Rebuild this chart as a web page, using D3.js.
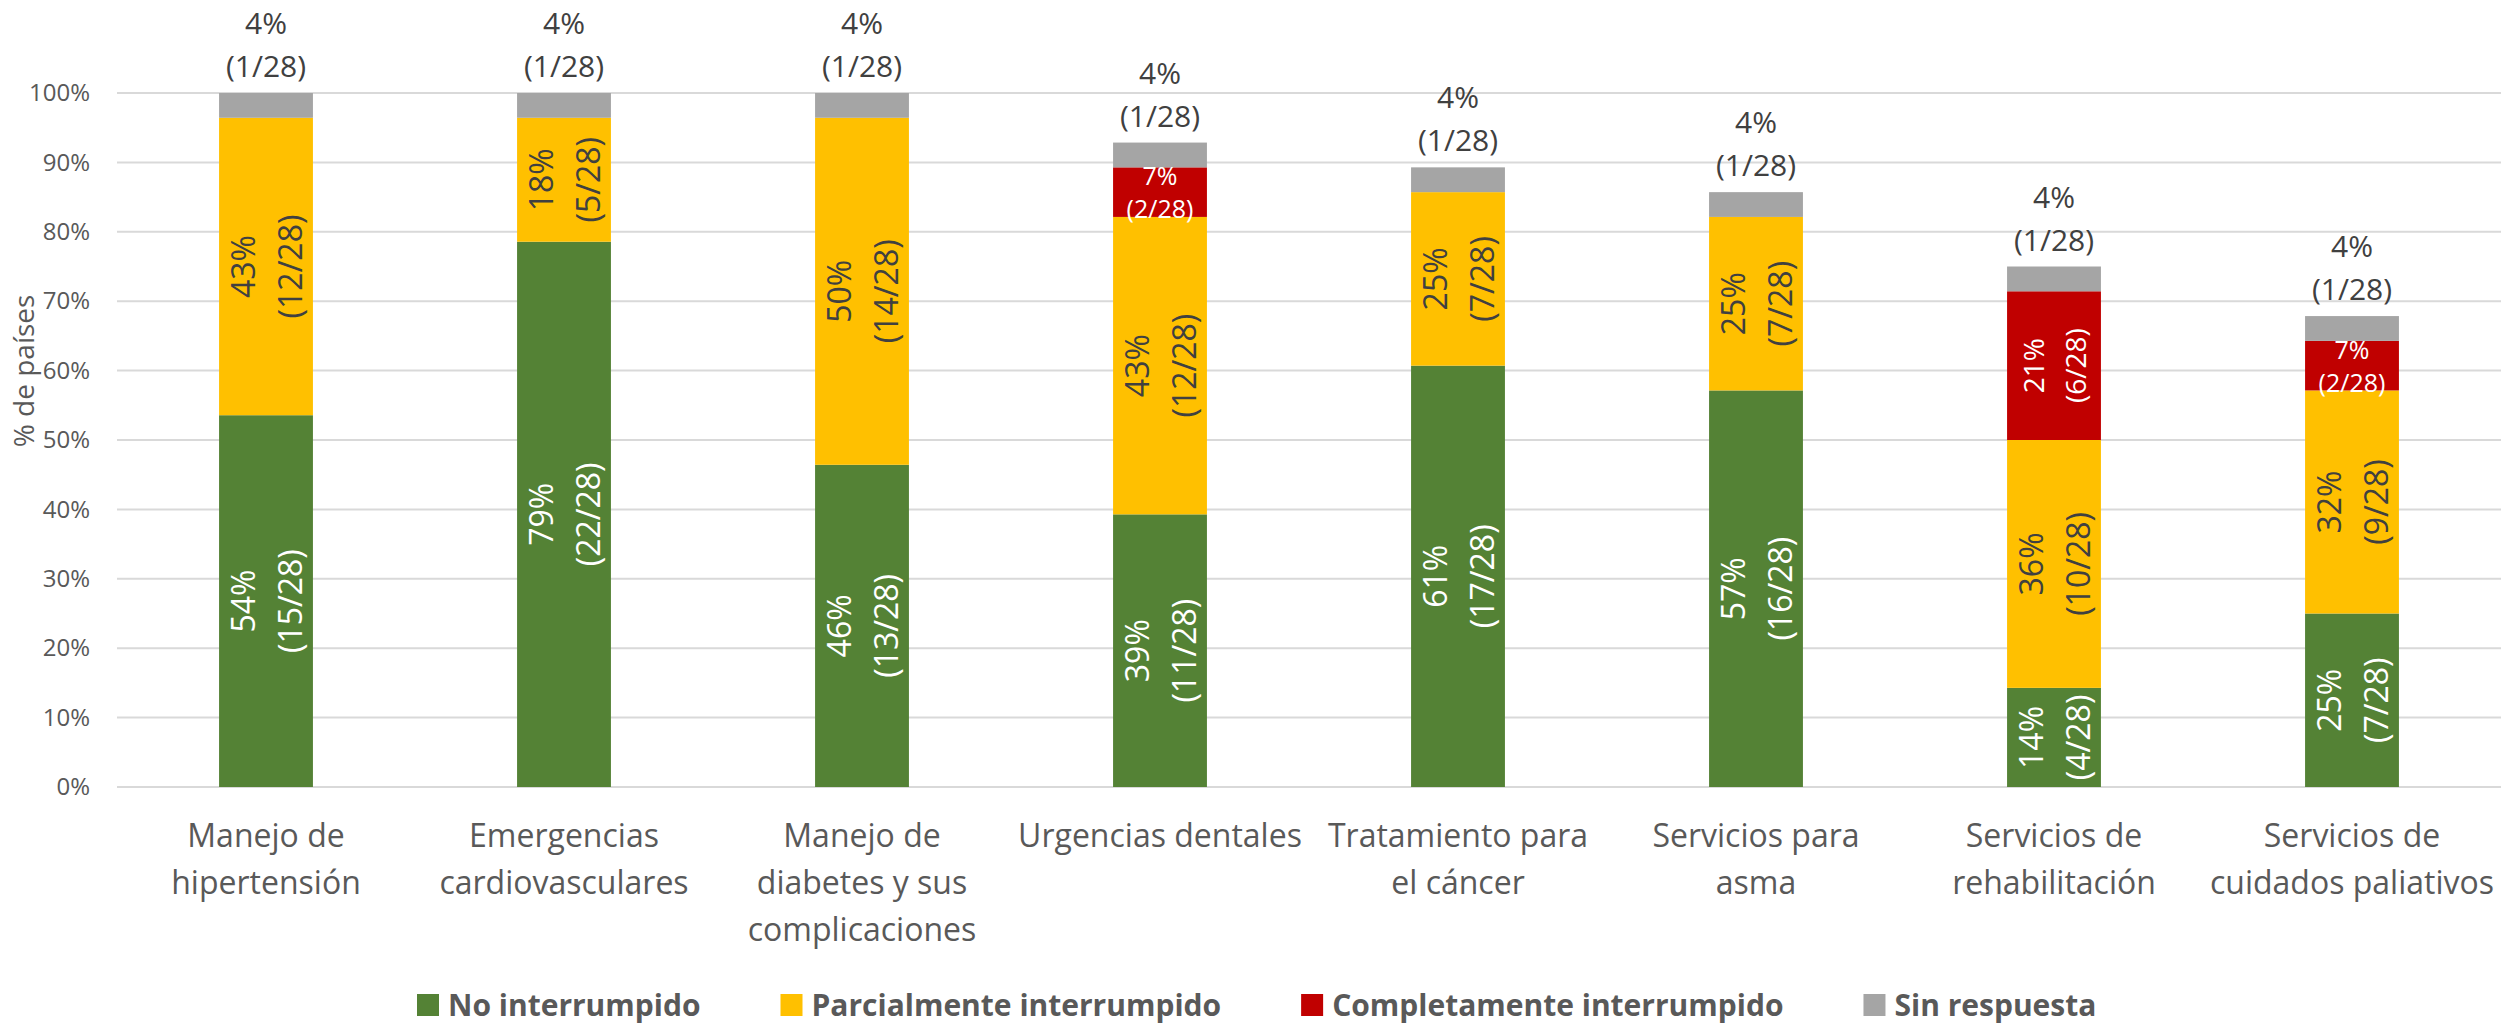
<!DOCTYPE html>
<html>
<head>
<meta charset="utf-8">
<script src="https://cdn.jsdelivr.net/npm/d3@7"></script>
<style>
  html, body { margin: 0; padding: 0; background: #ffffff; }
  svg { display: block; font-family: "Open Sans", "Noto Sans", sans-serif; }
</style>
</head>
<body>
<svg id="chart" width="2509" height="1024"></svg>
<script>
// ---- Data ----
const categories = [
  "Manejo de hipertensión",
  "Emergencias cardiovasculares",
  "Manejo de diabetes y sus complicaciones",
  "Urgencias dentales",
  "Tratamiento para el cáncer",
  "Servicios para asma",
  "Servicios de rehabilitación",
  "Servicios de cuidados paliativos"
];
const categoryLines = [
  ["Manejo de", "hipertensión"],
  ["Emergencias", "cardiovasculares"],
  ["Manejo de", "diabetes y sus", "complicaciones"],
  ["Urgencias dentales"],
  ["Tratamiento para", "el cáncer"],
  ["Servicios para", "asma"],
  ["Servicios de", "rehabilitación"],
  ["Servicios de", "cuidados paliativos"]
];
const totalCountries = 28;
const seriesNames = ["No interrumpido", "Parcialmente interrumpido", "Completamente interrumpido", "Sin respuesta"];
const noInterrumpido = [15, 22, 13, 11, 17, 16, 4, 7];
const parcialmente   = [12, 5, 14, 12, 7, 7, 10, 9];
const completamente  = [0, 0, 0, 2, 0, 0, 6, 2];
const sinRespuesta   = [1, 1, 1, 1, 1, 1, 1, 1];
const yTicks = [0, 0.1, 0.2, 0.3, 0.4, 0.5, 0.6, 0.7, 0.8, 0.9, 1.0];
const yAxisTitle = "% de países";

// ---- Styles ----
const colors = ["#548235", "#FFC000", "#C00000", "#A5A5A5"];
const labelColors = ["#ffffff", "#404040", "#ffffff", "#404040"];
const axisTextColor = "#595959";

const svg = d3.select("#chart");
svg.append("rect").attr("width", 2509).attr("height", 1024).attr("fill", "#ffffff");

const plotLeft = 117, plotRight = 2501, plotTop = 93, plotBottom = 787;

const x = d3.scaleBand().domain(categories).range([plotLeft, plotRight])
  .paddingInner(0.685).paddingOuter(0.3425);
const y = d3.scaleLinear().domain([0, 1]).range([plotBottom, plotTop]);

// gridlines
svg.append("g").selectAll("line").data(yTicks).join("line")
  .attr("x1", plotLeft).attr("x2", plotRight)
  .attr("y1", d => y(d)).attr("y2", d => y(d))
  .attr("stroke", "#D9D9D9").attr("stroke-width", 2);

// y axis
const yAxis = svg.append("g").attr("transform", `translate(${plotLeft - 25},0)`)
  .call(d3.axisLeft(y).tickValues(yTicks).tickFormat(d3.format(".0%")).tickSize(0).tickPadding(2));
yAxis.select(".domain").remove();
yAxis.selectAll("text").attr("fill", axisTextColor)
  .style("font-size", "24px").style("font-family", "'Open Sans', sans-serif");

// y axis title
svg.append("text")
  .attr("transform", `translate(23,371) rotate(-90)`)
  .attr("text-anchor", "middle").attr("dominant-baseline", "central")
  .attr("fill", axisTextColor).style("font-size", "28px")
  .text(yAxisTitle);

// stacked data
const table = categories.map((c, i) => ({
  cat: c,
  "No interrumpido": noInterrumpido[i] / totalCountries,
  "Parcialmente interrumpido": parcialmente[i] / totalCountries,
  "Completamente interrumpido": completamente[i] / totalCountries,
  "Sin respuesta": sinRespuesta[i] / totalCountries
}));
const counts = [noInterrumpido, parcialmente, completamente, sinRespuesta];
const stacked = d3.stack().keys(seriesNames)(table);

const bw = x.bandwidth();
const layers = svg.append("g").selectAll("g").data(stacked).join("g")
  .attr("fill", (d, i) => colors[i]);
layers.selectAll("rect").data(d => d).join("rect")
  .attr("x", d => x(d.data.cat))
  .attr("width", bw)
  .attr("y", d => y(d[1]))
  .attr("height", d => Math.max(0, y(d[0]) - y(d[1])));

// labels
const lbl = svg.append("g");
stacked.forEach((layer, si) => {
  layer.forEach((d, ci) => {
    const n = counts[si][ci];
    if (n === 0) return;
    const pct = Math.round(n / totalCountries * 100) + "%";
    const frac = "(" + n + "/" + totalCountries + ")";
    const cx = x(d.data.cat) + bw / 2;
    if (si === 3) {
      // above the bar
      const top = y(d[1]);
      lbl.append("text").attr("x", cx).attr("y", top - 59).attr("text-anchor", "middle")
        .attr("fill", labelColors[si]).style("font-size", "30px").text(pct);
      lbl.append("text").attr("x", cx).attr("y", top - 16).attr("text-anchor", "middle")
        .attr("fill", labelColors[si]).style("font-size", "30px").text(frac);
      return;
    }
    const cy = (y(d[0]) + y(d[1])) / 2;
    if (n / totalCountries < 0.1) {
      // small horizontal label
      lbl.append("text").attr("x", cx).attr("y", cy - 7).attr("text-anchor", "middle")
        .attr("fill", labelColors[si]).style("font-size", "25px").text(pct);
      lbl.append("text").attr("x", cx).attr("y", cy + 26).attr("text-anchor", "middle")
        .attr("fill", labelColors[si]).style("font-size", "25px").text(frac);
      return;
    }
    const fs = si === 2 ? 28 : 32;
    const off = si === 2 ? 21 : 23.5;
    const g = lbl.append("g").attr("transform", `translate(${cx},${cy}) rotate(-90)`);
    g.append("text").attr("x", 0).attr("y", -off).attr("text-anchor", "middle")
      .attr("dominant-baseline", "central")
      .attr("fill", labelColors[si]).style("font-size", fs + "px").text(pct);
    g.append("text").attr("x", 0).attr("y", off).attr("text-anchor", "middle")
      .attr("dominant-baseline", "central")
      .attr("fill", labelColors[si]).style("font-size", fs + "px").text(frac);
  });
});

// category labels
const catG = svg.append("g");
categories.forEach((c, i) => {
  const cx = x(c) + bw / 2;
  const t = catG.append("text").attr("text-anchor", "middle").attr("fill", axisTextColor)
    .style("font-size", "32px");
  categoryLines[i].forEach((line, li) => {
    t.append("tspan").attr("x", cx).attr("y", 847 + li * 47).text(line);
  });
});

// legend
const legend = svg.append("g");
let lx = 417;
seriesNames.forEach((name, i) => {
  legend.append("rect").attr("x", lx).attr("y", 994).attr("width", 22).attr("height", 22)
    .attr("fill", colors[i]);
  const t = legend.append("text").attr("x", lx + 31).attr("y", 1016)
    .attr("fill", axisTextColor).style("font-size", "30px").style("font-weight", "bold")
    .text(name);
  lx = lx + 31 + t.node().getComputedTextLength() + 80;
});
</script>
</body>
</html>
